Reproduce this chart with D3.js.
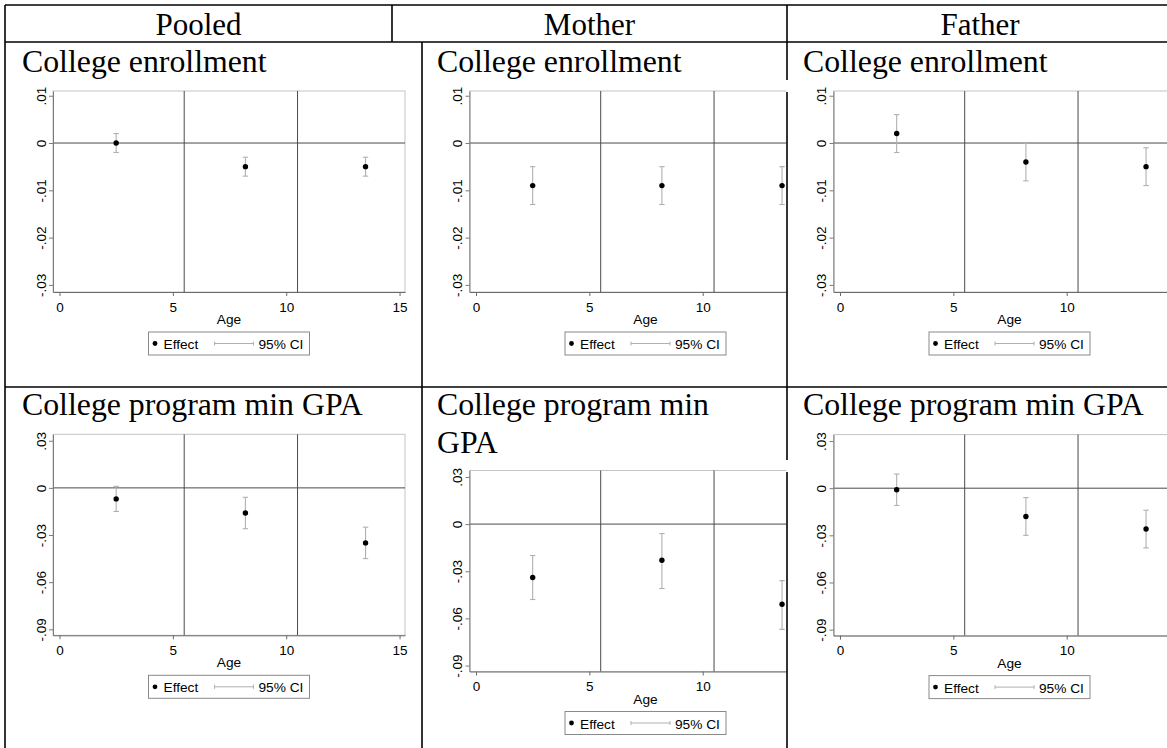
<!DOCTYPE html>
<html>
<head>
<meta charset="utf-8">
<script src="https://cdn.jsdelivr.net/npm/d3@7"></script>
<style>
  html, body { margin: 0; padding: 0; background: #fff; overflow: hidden; }
  svg { display: block; }
</style>
</head>
<body>
<svg id="fig" width="1167" height="748"></svg>
<script>
// ---- Data -------------------------------------------------------------
const groups = ["Pooled", "Mother", "Father"];
const outcomes = ["College enrollment", "College program min GPA"];
const ageGroups = [2.5, 8.2, 13.5];          // mid-point of each sibling age band
const ageTicks = [0, 5, 10, 15];
const cutoffs = [5.5, 10.5];                 // age band boundaries
const enrollTicks = [0.01, 0, -0.01, -0.02, -0.03];
const gpaTicks = [0.03, 0, -0.03, -0.06, -0.09];

// rows: Pooled, Mother, Father
const enrollEffect = [[0.000, -0.005, -0.005], [-0.009, -0.009, -0.009], [0.002, -0.004, -0.005]];
const enrollLow    = [[-0.002, -0.007, -0.007], [-0.013, -0.013, -0.013], [-0.002, -0.008, -0.009]];
const enrollHigh   = [[0.002, -0.003, -0.003], [-0.005, -0.005, -0.005], [0.006, 0.000, -0.001]];

const gpaEffect = [[-0.007, -0.016, -0.035], [-0.034, -0.023, -0.051], [-0.001, -0.018, -0.026]];
const gpaLow    = [[-0.015, -0.026, -0.045], [-0.048, -0.041, -0.067], [-0.011, -0.030, -0.038]];
const gpaHigh   = [[0.001, -0.006, -0.025], [-0.020, -0.006, -0.036], [0.009, -0.006, -0.014]];

// ---- Layout -----------------------------------------------------------
const svg = d3.select("#fig");
const SERIF = "'Times New Roman', 'Liberation Serif', serif";
const SANS = "Arial, 'Liberation Sans', sans-serif";
const PW = 352, PH = 201;                    // plot region size
const xDomain = [-0.287, 15.24];
const enrollDomain = [-0.0315, 0.0110];
const gpaDomain = [-0.0938, 0.0341];

// table rules
const rule = (x1, y1, x2, y2) => svg.append("line")
  .attr("x1", x1).attr("y1", y1).attr("x2", x2).attr("y2", y2)
  .attr("stroke", "#000").attr("stroke-width", 1.6);

// header row
const headerCells = [[5, 392], [392, 787], [787, 1173]];
groups.forEach((g, i) => {
  svg.append("text")
    .attr("x", (headerCells[i][0] + headerCells[i][1]) / 2).attr("y", 35)
    .attr("text-anchor", "middle")
    .attr("font-family", SERIF).attr("font-size", 31)
    .text(g);
});

// panel placement: frame left/top per row & column, and title positions
const frameLeft = [53, 469.5, 833.5];
const frameTop = [[91, 91, 91], [434.3, 470.5, 434.6]];
const titleX = [22, 437, 803];
const titleY = [72, 415];
const clipLeft = [0, 422, 787];
const clipRight = [422, 786.5, 1167];

svg.append("defs").selectAll("clipPath")
  .data(groups).join("clipPath")
  .attr("id", (d, i) => "clip" + i)
  .append("rect")
  .attr("x", (d, i) => clipLeft[i]).attr("y", 0)
  .attr("width", (d, i) => clipRight[i] - clipLeft[i]).attr("height", 748);

// Stata-style labels: ".01", "0", "-.03"
const tickFmt = d => d === 0 ? "0" : (d < 0 ? "-" : "") + Math.abs(d).toFixed(2).replace(/^0/, "");

function drawPanel(row, col) {
  const left = frameLeft[col], top = frameTop[row][col];
  const isEnroll = row === 0;
  const eff = (isEnroll ? enrollEffect : gpaEffect)[col];
  const lo = (isEnroll ? enrollLow : gpaLow)[col];
  const hi = (isEnroll ? enrollHigh : gpaHigh)[col];
  const ticks = isEnroll ? enrollTicks : gpaTicks;

  const x = d3.scaleLinear().domain(xDomain).range([0, PW]);
  const y = d3.scaleLinear().domain(isEnroll ? enrollDomain : gpaDomain).range([PH, 0]);
  // only label the age ticks that fall inside the visible part of the cell
  const shownAgeTicks = ageTicks.filter(v => left + x(v) + 9 < clipRight[col]);

  const outer = svg.append("g").attr("clip-path", `url(#clip${col})`);
  const g = outer.append("g").attr("transform", `translate(${left},${top})`);

  // plot region border
  g.append("rect").attr("x", 0).attr("y", 0).attr("width", PW).attr("height", PH)
    .attr("fill", "#fff").attr("stroke", "#c4c4c4").attr("stroke-width", 1);

  // reference lines
  g.selectAll(".cut").data(cutoffs).join("line")
    .attr("x1", d => x(d)).attr("x2", d => x(d)).attr("y1", 0).attr("y2", PH)
    .attr("stroke", "#4a4a4a").attr("stroke-width", 1);
  g.append("line").attr("x1", 0).attr("x2", PW).attr("y1", y(0)).attr("y2", y(0))
    .attr("stroke", "#4a4a4a").attr("stroke-width", 1);

  // y axis
  const ya = g.append("g").call(d3.axisLeft(y).tickValues(ticks).tickSize(4).tickSizeOuter(0).tickFormat(tickFmt));
  ya.select(".domain").attr("stroke", "#7a7a7a");
  ya.selectAll(".tick line").attr("stroke", "#7a7a7a");
  ya.selectAll(".tick text")
    .attr("transform", "rotate(-90)")
    .attr("x", 0).attr("y", -7.5).attr("dy", 0)
    .attr("text-anchor", "middle")
    .attr("font-family", SANS).attr("font-size", 13.5).attr("fill", "#000");

  // x axis
  const xa = g.append("g").attr("transform", `translate(0,${PH})`)
    .call(d3.axisBottom(x).tickValues(shownAgeTicks).tickSize(4).tickSizeOuter(0));
  xa.select(".domain").attr("stroke", "#6a6a6a");
  xa.selectAll(".tick line").attr("stroke", "#6a6a6a");
  xa.selectAll(".tick text").attr("y", 0).attr("dy", 19.5)
    .attr("font-family", SANS).attr("font-size", 13.5).attr("fill", "#000");

  g.append("text").attr("x", PW / 2).attr("y", PH + 32)
    .attr("text-anchor", "middle").attr("font-family", SANS).attr("font-size", 13.7)
    .text("Age");

  // confidence intervals
  const ci = g.selectAll(".ci").data(ageGroups).join("g").attr("stroke", "#b0b0b0").attr("stroke-width", 1.1);
  ci.append("line").attr("x1", d => x(d)).attr("x2", d => x(d))
    .attr("y1", (d, i) => y(hi[i])).attr("y2", (d, i) => y(lo[i]));
  ci.append("line").attr("x1", d => x(d) - 2.7).attr("x2", d => x(d) + 2.7)
    .attr("y1", (d, i) => y(hi[i])).attr("y2", (d, i) => y(hi[i]));
  ci.append("line").attr("x1", d => x(d) - 2.7).attr("x2", d => x(d) + 2.7)
    .attr("y1", (d, i) => y(lo[i])).attr("y2", (d, i) => y(lo[i]));

  // point estimates
  g.selectAll(".pt").data(ageGroups).join("circle")
    .attr("cx", d => x(d)).attr("cy", (d, i) => y(eff[i])).attr("r", 2.7)
    .attr("fill", "#000");

  // legend
  const lg = g.append("g").attr("transform", `translate(${PW / 2 - 80.5},${PH + 40})`);
  lg.append("rect").attr("width", 161).attr("height", 23).attr("fill", "#fff")
    .attr("stroke", "#8a8a8a").attr("stroke-width", 1);
  lg.append("circle").attr("cx", 6.5).attr("cy", 11.5).attr("r", 2.4).attr("fill", "#000");
  lg.append("text").attr("x", 15).attr("y", 17).attr("font-family", SANS).attr("font-size", 13.7).text("Effect");
  const sample = lg.append("g").attr("stroke", "#b0b0b0").attr("stroke-width", 1);
  sample.append("line").attr("x1", 66).attr("x2", 105).attr("y1", 11.5).attr("y2", 11.5);
  sample.append("line").attr("x1", 66).attr("x2", 66).attr("y1", 9.5).attr("y2", 13.5);
  sample.append("line").attr("x1", 105).attr("x2", 105).attr("y1", 9.5).attr("y2", 13.5);
  lg.append("text").attr("x", 110).attr("y", 17).attr("font-family", SANS).attr("font-size", 13.7).text("95% CI");
}

// panel titles
outcomes.forEach((o, r) => {
  groups.forEach((gname, c) => {
    const t = svg.append("text").attr("x", titleX[c]).attr("y", titleY[r])
      .attr("font-family", SERIF).attr("font-size", 31.8);
    if (r === 1 && c === 1) {
      t.append("tspan").attr("x", titleX[c]).text("College program min");
      t.append("tspan").attr("x", titleX[c]).attr("dy", 37.5).text("GPA");
    } else {
      t.text(o);
    }
  });
});

for (let r = 0; r < 2; r++) for (let c = 0; c < 3; c++) drawPanel(r, c);

// table grid
rule(5, 5, 1167, 5);
rule(5, 42, 1167, 42);
rule(5, 387, 1167, 387);
rule(5, 5, 5, 748);
rule(392, 5, 392, 42);
rule(787, 5, 787, 80);
rule(787, 92, 787, 387);
rule(787, 387, 787, 460);
rule(787, 472, 787, 748);
rule(422, 42, 422, 748);
</script>
</body>
</html>
